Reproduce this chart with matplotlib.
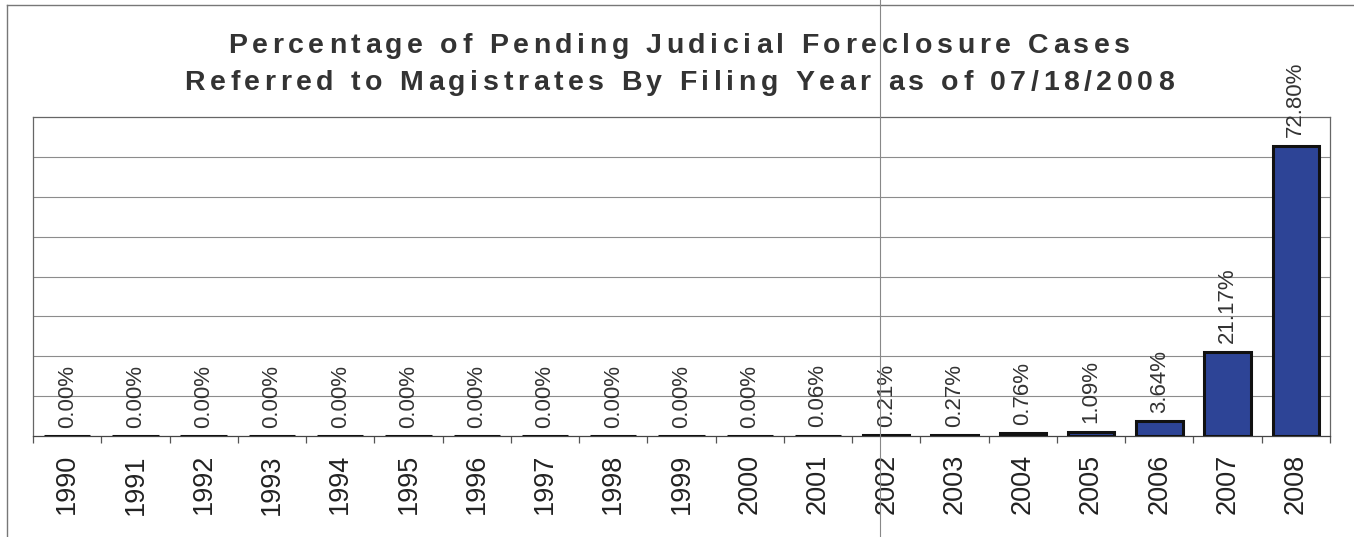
import matplotlib
matplotlib.use("Agg")
import matplotlib.pyplot as plt
from matplotlib.font_manager import FontProperties
from matplotlib.lines import Line2D

years = ["1990", "1991", "1992", "1993", "1994", "1995", "1996", "1997", "1998",
         "1999", "2000", "2001", "2002", "2003", "2004", "2005", "2006", "2007", "2008"]
values = [0.00, 0.00, 0.00, 0.00, 0.00, 0.00, 0.00, 0.00, 0.00,
          0.00, 0.00, 0.06, 0.21, 0.27, 0.76, 1.09, 3.64, 21.17, 72.80]
title_lines = ["Percentage of Pending Judicial Foreclosure Cases",
               "Referred to Magistrates By Filing Year as of 07/18/2008"]

W, H = 1354, 537
fig = plt.figure(figsize=(W / 100, H / 100), dpi=100)
fig.patch.set_facecolor("white")

ax = fig.add_axes([33 / W, (H - 436) / H, (1330 - 33) / W, (436 - 117) / H])
x = list(range(len(years)))
ax.bar(x, values, width=0.68, color="#2D4496", edgecolor="#111111", linewidth=2.2, zorder=3)
ax.set_xlim(-0.5, len(years) - 0.5)
ax.set_ylim(0, 80)
ax.set_yticks([10, 20, 30, 40, 50, 60, 70])
ax.yaxis.grid(True, color="#8c8c8c", linewidth=0.8, zorder=0)
ax.tick_params(axis="y", length=0, labelleft=False)
ax.set_xticks(x)
ax.set_xticklabels(years, rotation=90, fontsize=19.5, color="#222222",
                   family=["Liberation Sans", "DejaVu Sans"])
ax.set_xticks([i - 0.5 for i in range(len(years) + 1)], minor=True)
ax.tick_params(axis="x", which="major", length=0, pad=13)
ax.tick_params(axis="x", which="minor", length=5, width=0.9, color="#555555", direction="out")
for s in ax.spines.values():
    s.set_color("#666666")
    s.set_linewidth(0.9)
ax.spines["bottom"].set_color("#444444")

for i, v in enumerate(values):
    ax.annotate(f"{v:.2f}%", xy=(i, v), xytext=(0, 6), textcoords="offset points",
                rotation=90, ha="center", va="bottom", fontsize=16, color="#333333",
                family=["Liberation Sans", "DejaVu Sans"], zorder=4)

# Title with wide letter spacing, placed character by character
fp = FontProperties(family=["Liberation Sans", "DejaVu Sans"], weight="bold", size=20.5)
renderer = fig.canvas.get_renderer()

def char_widths(s):
    out = []
    for ch in s:
        if ch == " ":
            w1, _, _ = renderer.get_text_width_height_descent("a a", fp, ismath=False)
            w2, _, _ = renderer.get_text_width_height_descent("aa", fp, ismath=False)
            out.append(w1 - w2)
        else:
            w, _, _ = renderer.get_text_width_height_descent(ch, fp, ismath=False)
            out.append(w)
    return out

w0 = char_widths(title_lines[0])
spacing = (902 - sum(w0)) / (len(title_lines[0]) - 1)
baselines = [53, 90]
for line, base in zip(title_lines, baselines):
    ws = char_widths(line)
    total = sum(ws) + spacing * (len(line) - 1)
    cx = 679 - total / 2
    for ch, w in zip(line, ws):
        if ch != " ":
            fig.text(cx / W, (H - base) / H, ch, fontproperties=fp, color="#333333",
                     ha="left", va="baseline")
        cx += w + spacing

# Outer frame lines and scan line
fig.add_artist(Line2D([7 / W, 7 / W], [0, (H - 5) / H], color="#777777", linewidth=1.0))
fig.add_artist(Line2D([7 / W, 1], [(H - 5) / H, (H - 5) / H], color="#777777", linewidth=1.0))
fig.add_artist(Line2D([880 / W, 880 / W], [0, 1], color="#888888", linewidth=0.8))

fig.savefig("out.png", dpi=100, facecolor="white")
